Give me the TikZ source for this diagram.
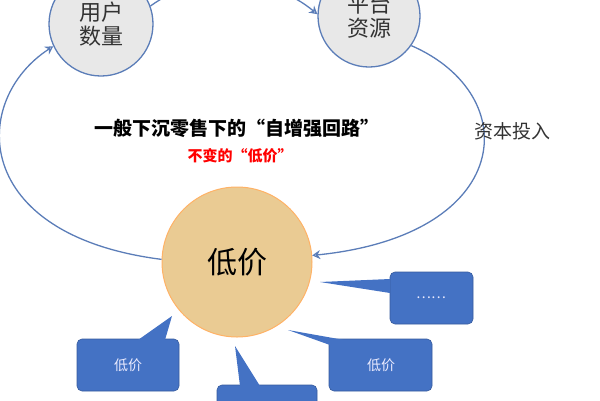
\documentclass[tikz,border=0pt]{standalone}
\usepackage{fontspec}
\setmainfont{Noto Sans CJK SC}
\usetikzlibrary{arrows.meta}
\definecolor{lb}{HTML}{5B7DB8}
\definecolor{bx}{HTML}{4472C4}
\definecolor{tan}{HTML}{EACB93}
\tikzset{
 topc/.style={circle,draw=lb,line width=1.3pt,fill=gray!18,minimum size=104pt,align=center,font=\fontsize{22}{24}\selectfont,text=black!80},
 loop/.style={draw=lb,line width=1.3pt,-{Stealth[open,length=8pt,width=9pt]}},
 callout/.style={fill=bx,draw=bx!80!black,line width=.6pt,rounded corners=5pt},
 ctext/.style={text=white!92!blue,font=\fontsize{14}{16}\selectfont}
}
\begin{document}
\begin{tikzpicture}[x=1pt,y=-1pt]
\useasboundingbox (0,0) rectangle (600,400);
\clip (0,0) rectangle (600,400);
\node[topc] (u) at (101,24) {用户\\数量};
\node[topc,minimum size=102pt] (p) at (369,16) {平台\\资源};
\node[circle,draw=orange!60,line width=1pt,fill=tan,minimum size=150pt,font=\fontsize{30}{32}\selectfont] (d) at (237,262) {低价};
\draw[loop] (u.20) .. controls (200,-30) and (270,-25) .. (p.178);
\draw[loop] (p.-35) .. controls (525,95) and (515,235) .. (d.5);
\draw[loop] (d.178) .. controls (-30,235) and (-30,100) .. (u.205);
\node[font=\bfseries\fontsize{19}{21}\selectfont] (t1) at (237,128) {一般下沉零售下的“自增强回路”};
\node[font=\bfseries\itshape\fontsize{15}{17}\selectfont,text=red] (t2) at (240,156) {不变的“低价”};
\node[font=\fontsize{19}{21}\selectfont,text=black!80] (t3) at (512,131) {资本投入};
% callouts
\draw[callout] (390,272) rectangle (473,324);
\fill[bx] (390,279) -- (320,282) -- (390,293) -- cycle;
\node[ctext] (c1) at (431,298) {……};
\draw[callout] (77,339) rectangle (179,391);
\fill[bx] (138,340) -- (172,316) -- (165,340) -- cycle;
\node[ctext] (c2) at (128,365) {低价};
\draw[callout] (329,339) rectangle (432,391);
\fill[bx] (330,345) -- (288,330) -- (350,341) -- cycle;
\node[ctext] (c3) at (381,365) {低价};
\draw[callout] (217,385) rectangle (317,420);
\fill[bx] (240,386) -- (235,346) -- (260,386) -- cycle;
\end{tikzpicture}
\end{document}
